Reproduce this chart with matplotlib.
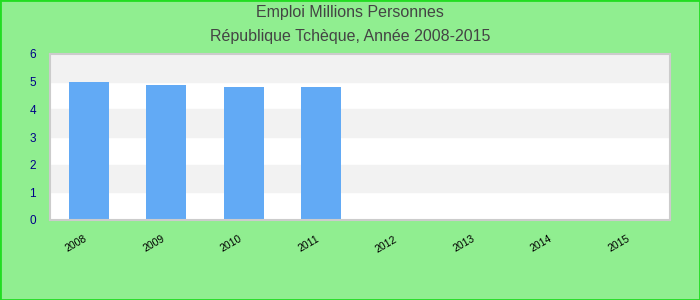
import numpy as np
import matplotlib.pyplot as plt
from matplotlib.patches import Rectangle

years = ['2008', '2009', '2010', '2011', '2012', '2013', '2014', '2015']
emploi = [5.0, 4.89, 4.82, 4.82, 0, 0, 0, 0]
yticks = [0, 1, 2, 3, 4, 5, 6]

plt.rcParams['font.family'] = ['Liberation Sans', 'DejaVu Sans']

fig = plt.figure(figsize=(7, 3), dpi=100, facecolor='#90EE90')
fig.patches.append(Rectangle((0, 0), 1, 1, transform=fig.transFigure, fill=False,
                             edgecolor='#22dd22', linewidth=2))
ax = fig.add_axes([50/700, 80/300, 620/700, 166/300])
ax.set_facecolor('white')

# alternating bands
for i in range(len(yticks) - 1):
    if i % 2 == 1:
        ax.axhspan(yticks[i], yticks[i+1], color='#f2f2f2', zorder=0)

x = np.arange(len(years))
ax.bar(x, emploi, width=0.52, color='#62aaf5', zorder=2)
ax.set_xlim(-0.5, len(years) - 0.5)
ax.set_ylim(0, 6)
ax.set_yticks(yticks)
ax.set_xticks(x)
ax.set_xticklabels(years, rotation=30, fontsize=7.5, color='black', ha='right')
ax.tick_params(axis='y', labelsize=8.5, colors='#000088', length=0, pad=10)
ax.tick_params(axis='x', length=0, pad=10)
for s in ax.spines.values():
    s.set_color('#cccccc')
    s.set_linewidth(1.5)

fig.text(0.5, 0.96, 'Emploi Millions Personnes', ha='center', va='center', fontsize=11.5, color='#444444')
fig.text(0.5, 0.88, 'République Tchèque, Année 2008-2015', ha='center', va='center', fontsize=11.5, color='#444444')

fig.savefig('out.png', dpi=100, facecolor=fig.get_facecolor())
